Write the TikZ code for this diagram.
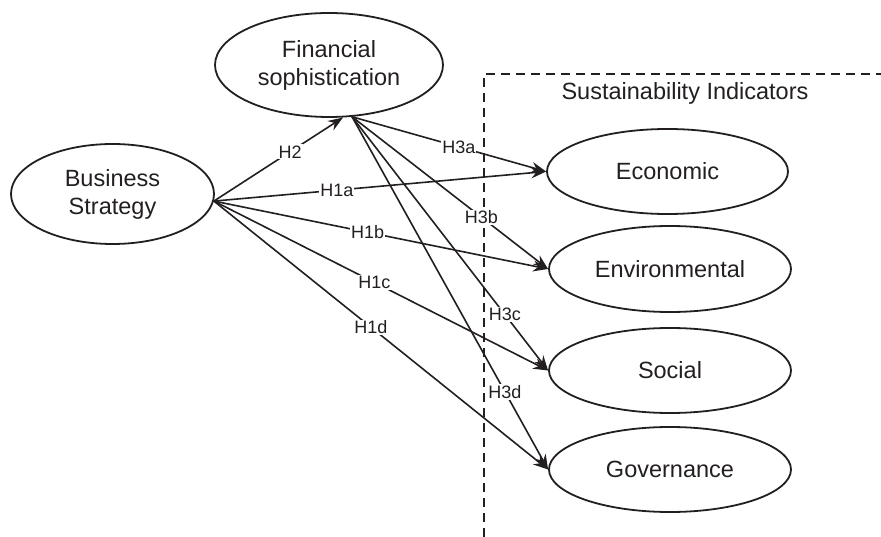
\documentclass[tikz,border=0pt]{standalone}
\usepackage{fontspec}
\setmainfont{Liberation Sans}
\usetikzlibrary{shapes.geometric,arrows.meta}
\definecolor{ink}{RGB}{35,31,32}
\begin{document}
\begin{tikzpicture}[x=1pt,y=-1pt,
  ell/.style={ellipse,draw=ink,line width=1.8pt,inner sep=0pt,align=center,
    font=\fontsize{23.5}{28}\selectfont,text=ink},
  arr/.style={draw=ink,line width=1.6pt,-{Stealth[length=15pt,width=11pt,inset=5pt]}},
  lbl/.style={fill=white,inner sep=1pt,font=\fontsize{18}{20}\selectfont,text=ink},
  boxline/.style={draw=ink,line width=2.3pt,dash pattern=on 9pt off 6pt}]
\useasboundingbox (0,0) rectangle (881,537);
% dashed region
\coordinate (dA) at (484,537);
\coordinate (dB) at (484,74);
\coordinate (dC) at (881,74);
\draw[boxline] (dA) -- (dB) -- (dC);
\node[text=ink,font=\fontsize{23.5}{28}\selectfont] (si) at (685,93) {Sustainability Indicators};
% nodes
\node[ell,minimum width=228pt,minimum height=104pt] (fs) at (329,65) {Financial\\sophistication};
\node[ell,minimum width=203pt,minimum height=100pt] (bs) at (112.5,194) {Business\\Strategy};
\node[ell,minimum width=241pt,minimum height=85pt] (eco) at (667.5,171.5) {Economic};
\node[ell,minimum width=242pt,minimum height=86pt] (env) at (670,269) {Environmental};
\node[ell,minimum width=242pt,minimum height=85pt] (soc) at (670,370.5) {Social};
\node[ell,minimum width=242pt,minimum height=85pt] (gov) at (670,469.5) {Governance};
% connectors
\draw[arr] (bs.-4) -- (fs.-75) node[lbl,pos=.59] {H2};
\draw[arr] (bs.-4) -- (eco.west) node[lbl,pos=.37] {H1a};
\draw[arr] (bs.-4) -- (env.west) node[lbl,pos=.46] {H1b};
\draw[arr] (bs.-4) -- (soc.west) node[lbl,pos=.48] {H1c};
\draw[arr] (bs.-4) -- (gov.west) node[lbl,pos=.47] {H1d};
\draw[arr] (fs.-66) -- (eco.west) node[lbl,pos=.55] {H3a};
\draw[arr] (fs.-66) -- (env.west) node[lbl,pos=.66] {H3b};
\draw[arr] (fs.-66) -- (soc.west) node[lbl,pos=.78] {H3c};
\draw[arr] (fs.-66) -- (gov.west) node[lbl,pos=.78] {H3d};
\end{tikzpicture}
\end{document}
